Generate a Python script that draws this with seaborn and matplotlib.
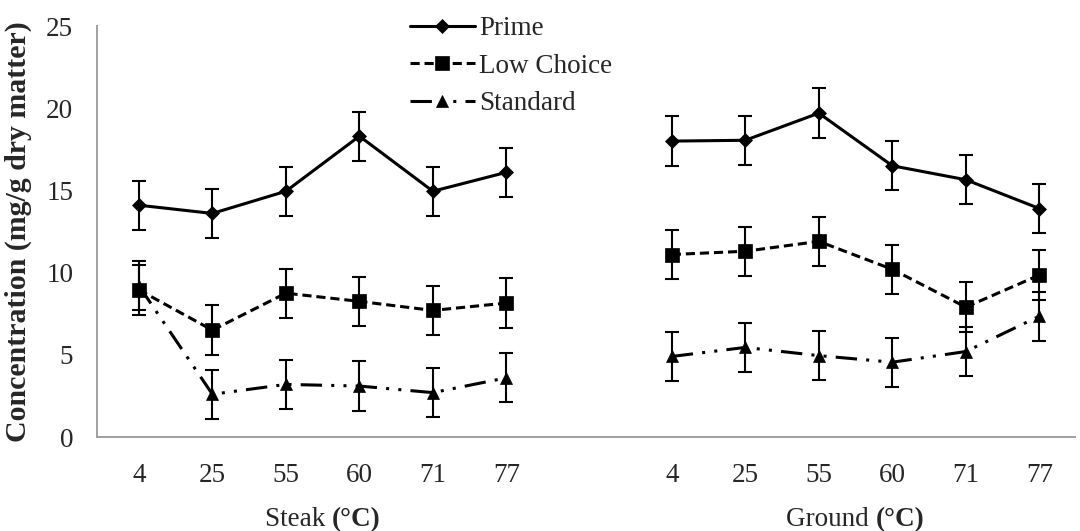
#!/usr/bin/env python3

import numpy as np
import matplotlib
matplotlib.use('Agg')
import matplotlib.pyplot as plt
import seaborn as sns
from matplotlib.offsetbox import TextArea, HPacker, AnnotationBbox

SET_DPI = 100
FIGSIZE = (10.8, 5.31)
FS = 19.5

TEMPS = ['4', '25', '55', '60', '71', '77']
GROUPS = ['Steak', 'Ground']
SERIES = ['Prime', 'Low Choice', 'Standard']

# values (mg/g dry matter)
PRIME_STEAK = [14.1, 13.6, 14.95, 18.3, 14.95, 16.1]
PRIME_GROUND = [18.0, 18.05, 19.7, 16.5, 15.65, 13.9]
LOWCH_STEAK = [8.95, 6.5, 8.75, 8.25, 7.7, 8.15]
LOWCH_GROUND = [11.1, 11.3, 11.9, 10.2, 7.9, 9.85]
STD_STEAK = [9.2, 2.6, 3.2, 3.1, 2.7, 3.6]
STD_GROUND = [4.9, 5.45, 4.95, 4.55, 5.2, 7.35]
ERR = 1.5

STEAK_POS = np.arange(6)
GROUND_POS = np.arange(6) + 7.25

STYLES = {
    'Prime': dict(marker='D', markersize=7, linestyle='-'),
    'Low Choice': dict(marker='s', markersize=10, linestyle=(0, (3, 1.6))),
    'Standard': dict(marker='^', markersize=8, linestyle=(0, (7, 3, 1, 3, 1, 3))),
}
DATA = {
    'Prime': (PRIME_STEAK, PRIME_GROUND),
    'Low Choice': (LOWCH_STEAK, LOWCH_GROUND),
    'Standard': (STD_STEAK, STD_GROUND),
}

sns.set_style('white')
plt.rcParams['font.family'] = ['Liberation Serif', 'DejaVu Serif']
plt.rcParams['font.size'] = FS

fig = plt.figure(figsize=FIGSIZE, dpi=SET_DPI)
ax = fig.add_axes([0.0898, 0.177, 0.9052, 0.774])

for name in SERIES:
    for pos, vals, lab in zip((STEAK_POS, GROUND_POS), DATA[name], (name, None)):
        ax.errorbar(pos, vals, yerr=ERR, fmt='none', ecolor='black',
                    elinewidth=1.5, capsize=5, capthick=1.5, zorder=2)
        sns.lineplot(x=pos, y=vals, ax=ax, color='black', linewidth=2.2,
                     markeredgecolor='black', markeredgewidth=0.5,
                     label=lab, sort=False, zorder=3, **STYLES[name])

ax.set_ylim(0, 25)
ax.set_yticks([0, 5, 10, 15, 20, 25])
ax.set_xlim(-0.57, 12.73)
ax.set_xticks(np.concatenate([STEAK_POS, GROUND_POS]))
ax.set_xticklabels(TEMPS + TEMPS)
ax.tick_params(axis='x', length=0, pad=19, labelsize=FS)
ax.tick_params(axis='y', length=0, pad=17, labelsize=FS)

for side in ['top', 'right']:
    ax.spines[side].set_visible(False)
for side in ['left', 'bottom']:
    ax.spines[side].set_color('#a0a0a0')
    ax.spines[side].set_linewidth(1.4)

ax.set_ylabel('Concentration (mg/g dry matter)', fontweight='bold', fontsize=21.5)
ax.yaxis.set_label_coords(-0.066, 0.5)

# group labels with bold unit
for grp, pos in zip(GROUPS, (STEAK_POS, GROUND_POS)):
    box = HPacker(children=[TextArea(grp + ' ', textprops=dict(fontsize=FS)),
                            TextArea('(°C)', textprops=dict(fontsize=FS, fontweight='bold'))],
                  align='baseline', pad=0, sep=0)
    ab = AnnotationBbox(box, (pos.mean(), -0.2), xycoords=('data', 'axes fraction'),
                        frameon=False, box_alignment=(0.5, 0.5), annotation_clip=False)
    ax.add_artist(ab)

ax.legend(loc='upper left', bbox_to_anchor=(0.309, 1.05), frameon=False,
          handlelength=2.4, handletextpad=0.15, labelspacing=0.46,
          fontsize=FS, borderaxespad=0)

plt.savefig('out.png', dpi=SET_DPI)
plt.close('all')
